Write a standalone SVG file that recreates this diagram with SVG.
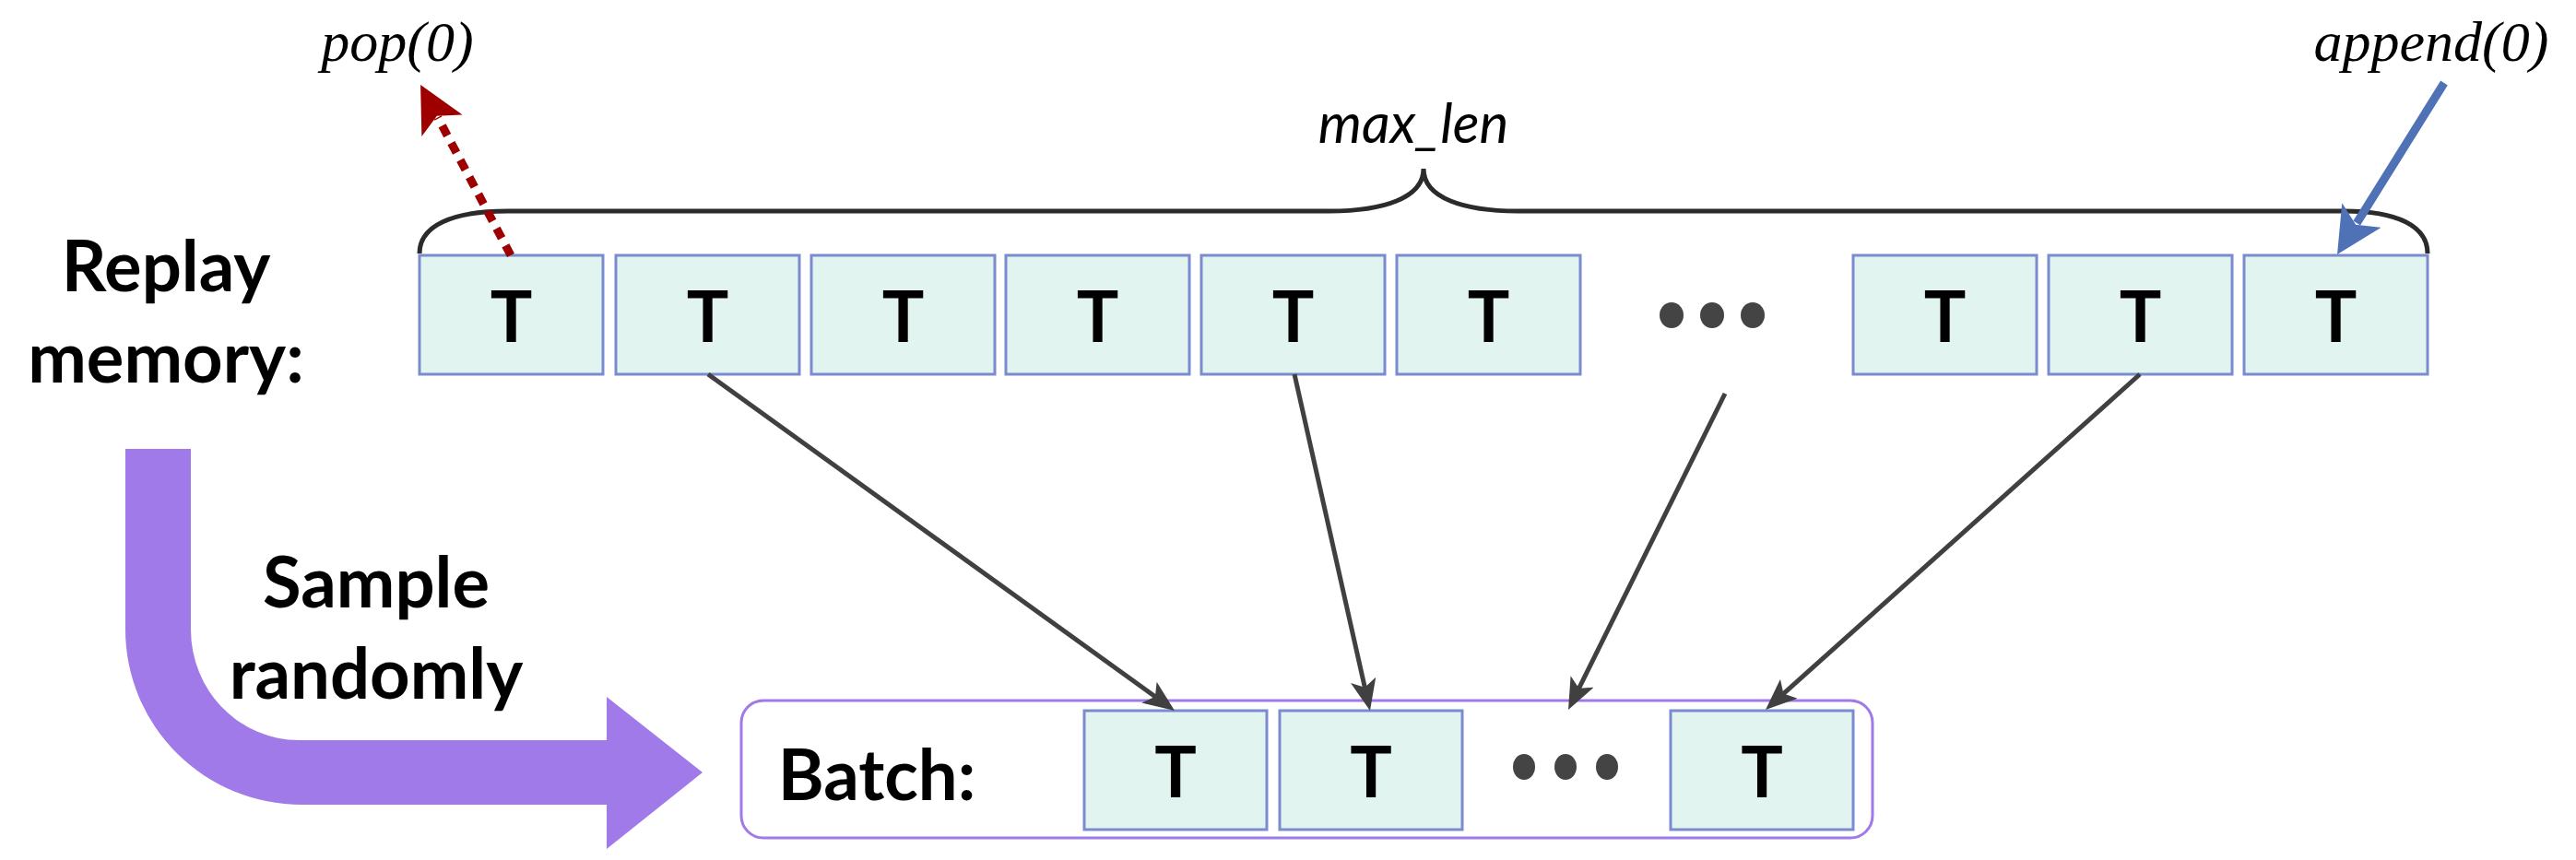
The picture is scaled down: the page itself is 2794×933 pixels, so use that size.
<svg xmlns="http://www.w3.org/2000/svg" width="2794" height="933" viewBox="0 0 2794 933">
<style>
.box{fill:#E2F4F0;stroke:#7B8BCF;stroke-width:3}
.t{font-family:Lato,"Open Sans",sans-serif;font-weight:bold;font-size:76px;fill:#000;text-anchor:middle}
.lbl{font-family:Lato,"Open Sans",sans-serif;font-weight:bold;font-size:76px;fill:#000;text-anchor:middle}
.op{font-family:"Liberation Serif",serif;font-style:italic;font-size:62px;fill:#000;text-anchor:middle}
.conn{stroke:#404040;stroke-width:5;fill:none}
.dot{fill:#444}
</style>
<defs>
<marker id="ah" markerUnits="userSpaceOnUse" viewBox="0 0 34 28" refX="14" refY="14" markerWidth="34" markerHeight="28" orient="auto">
<path d="M0,0 L34,14 L0,28 L8,14 Z" fill="#404040"/>
</marker>
<marker id="ahRed" markerUnits="userSpaceOnUse" viewBox="0 0 50 50" refX="10" refY="25" markerWidth="50" markerHeight="50" orient="auto">
<path d="M0,0 L50,25 L0,50 L12,25 Z" fill="#9E0000"/>
</marker>
<marker id="ahBlue" markerUnits="userSpaceOnUse" viewBox="0 0 50 50" refX="10" refY="25" markerWidth="50" markerHeight="50" orient="auto">
<path d="M0,0 L50,25 L0,50 L12,25 Z" fill="#4E72B5"/>
</marker>
</defs>
<rect width="2794" height="933" fill="#fff"/>

<g id="big-arrow">
<path d="M136,487 L207,487 L207,683 A117,120 0 0 0 324,803 L658,803 L658,756 L762,838 L658,921 L658,873 L327,873 A191,190 0 0 1 136,683 Z" fill="#A07AE8"/>
</g>

<g id="labels">
<text class="lbl" x="180" y="316">Replay</text>
<text class="lbl" x="180" y="415">memory:</text>
<text class="lbl" x="408" y="659">Sample</text>
<text class="lbl" x="408" y="758">randomly</text>
<text class="op" x="431" y="66">pop(0)</text>
<text class="op" x="2637" y="66">append(0)</text>
<text x="1533" y="155" font-family="Lato,'Open Sans',sans-serif" font-style="italic" font-size="60" text-anchor="middle">max_len</text>
</g>

<g id="brace">
<path d="M455,275 C455,245 490,229 551,229 L1442,229 C1500,229 1544,215 1544,183 C1544,215 1588,229 1646,229 L2542,229 C2600,229 2633,245 2633,275" fill="none" stroke="#2B2B2B" stroke-width="5"/>
</g>

<g id="memory">
<g id="m1"><rect class="box" x="455" y="277" width="199" height="129"/><text class="t" x="554.5" y="371">T</text></g>
<g id="m2"><rect class="box" x="668" y="277" width="199" height="129"/><text class="t" x="767.5" y="371">T</text></g>
<g id="m3"><rect class="box" x="880" y="277" width="199" height="129"/><text class="t" x="979.5" y="371">T</text></g>
<g id="m4"><rect class="box" x="1091" y="277" width="199" height="129"/><text class="t" x="1190.5" y="371">T</text></g>
<g id="m5"><rect class="box" x="1303" y="277" width="199" height="129"/><text class="t" x="1402.5" y="371">T</text></g>
<g id="m6"><rect class="box" x="1515" y="277" width="199" height="129"/><text class="t" x="1614.5" y="371">T</text></g>
<g id="mdots"><ellipse class="dot" cx="1813" cy="342" rx="13" ry="14"/><ellipse class="dot" cx="1857" cy="342" rx="13" ry="14"/><ellipse class="dot" cx="1901" cy="342" rx="13" ry="14"/></g>
<g id="m7"><rect class="box" x="2010" y="277" width="199" height="129"/><text class="t" x="2109.5" y="371">T</text></g>
<g id="m8"><rect class="box" x="2222" y="277" width="199" height="129"/><text class="t" x="2321.5" y="371">T</text></g>
<g id="m9"><rect class="box" x="2434" y="277" width="199" height="129"/><text class="t" x="2533.5" y="371">T</text></g>
</g>

<g id="batch">
<rect x="804" y="760" width="1227" height="149" rx="24" ry="24" fill="none" stroke="#A07AE8" stroke-width="3"/>
<text class="lbl" x="951" y="868">Batch:</text>
<g id="b1"><rect class="box" x="1176" y="771" width="198" height="129"/><text class="t" x="1275" y="865">T</text></g>
<g id="b2"><rect class="box" x="1388" y="771" width="198" height="129"/><text class="t" x="1487" y="865">T</text></g>
<g id="bdots"><ellipse class="dot" cx="1653" cy="832" rx="12" ry="14"/><ellipse class="dot" cx="1698" cy="832" rx="12" ry="14"/><ellipse class="dot" cx="1743" cy="832" rx="12" ry="14"/></g>
<g id="b3"><rect class="box" x="1812" y="771" width="198" height="129"/><text class="t" x="1911" y="865">T</text></g>
</g>

<g id="connectors">
<line class="conn" x1="768" y1="406" x2="1257.8" y2="759.3" marker-end="url(#ah)"/>
<line class="conn" x1="1404" y1="406" x2="1481.6" y2="751.5" marker-end="url(#ah)"/>
<line class="conn" x1="1871" y1="427" x2="1709.9" y2="752.1" marker-end="url(#ah)"/>
<line class="conn" x1="2321" y1="406" x2="1929.9" y2="756.6" marker-end="url(#ah)"/>
<line x1="554" y1="277" x2="474.8" y2="127.4" stroke="#9E0000" stroke-width="9" stroke-dasharray="12 9" marker-end="url(#ahRed)"/>
<line x1="2651" y1="90" x2="2556.2" y2="242" stroke="#4E72B5" stroke-width="9" marker-end="url(#ahBlue)"/>
</g>
</svg>
